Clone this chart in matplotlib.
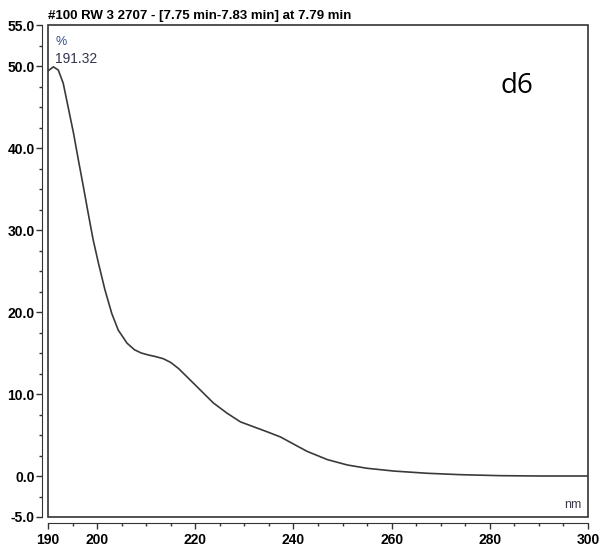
import numpy as np
import matplotlib.pyplot as plt
from matplotlib.patches import Rectangle
from matplotlib.ticker import FixedLocator, MultipleLocator, FormatStrFormatter

# spectrum
wavelength = [190.0, 191.1, 192.1, 193.1, 194.1, 195.2, 196.2, 197.2, 198.2, 199.2,
              200.3, 201.6, 203.0, 204.3, 206.1, 207.6, 209.0, 210.5, 212.0, 213.5,
              215.0, 216.6, 218.3, 221.0, 223.7, 226.5, 229.2, 231.9, 234.6, 237.4,
              240.0, 242.8, 246.9, 251.0, 255.0, 260.5, 267.3, 274.1, 282.2, 290.4,
              300.0]
absorb = [49.4, 49.9, 49.5, 47.9, 45.0, 41.8, 38.5, 35.3, 32.0, 28.8,
          25.9, 22.7, 19.8, 17.8, 16.2, 15.4, 15.0, 14.75, 14.55, 14.3,
          13.85, 13.1, 12.1, 10.5, 8.9, 7.65, 6.6, 6.0, 5.4, 4.75,
          3.9, 3.0, 2.0, 1.34, 0.94, 0.6, 0.33, 0.16, 0.04, 0.0,
          0.0]
x_major = [190, 200, 220, 240, 260, 280, 300]
y_major = [-5, 0, 10, 20, 30, 40, 50, 55]
title = '#100 RW 3 2707 - [7.75 min-7.83 min] at 7.79 min'

W, H = 606, 548
fig = plt.figure(figsize=(W / 100, H / 100), dpi=100)
ax = fig.add_axes([48 / W, 1 - 517 / H, (588 - 48) / W, (517 - 25) / H])

ax.plot(wavelength, absorb, color='#3a3a3a', lw=1.2)
ax.set_xlim(190, 300)
ax.set_ylim(-5, 55)

# separate axis lines outside the box
for s in ['top', 'right']:
    ax.spines[s].set_visible(False)
ax.spines['left'].set_position(('outward', 4))
ax.spines['bottom'].set_position(('outward', 4.5))
ax.spines['left'].set_color('#333333')
ax.spines['bottom'].set_color('#333333')
ax.add_patch(Rectangle((0, 0), 1, 1, transform=ax.transAxes, fill=False,
                       ec='#333333', lw=1.2, clip_on=False))

ax.xaxis.set_major_locator(FixedLocator(x_major))
ax.xaxis.set_minor_locator(MultipleLocator(5))
ax.yaxis.set_major_locator(FixedLocator(y_major))
ax.yaxis.set_minor_locator(MultipleLocator(2.5))
ax.yaxis.set_major_formatter(FormatStrFormatter('%.1f'))
ax.tick_params(which='major', length=4, width=1, color='#333333')
ax.tick_params(which='minor', length=2.5, width=1, color='#333333')
ax.tick_params(axis='y', which='major', pad=1.5)
ax.tick_params(axis='x', which='major', pad=3)

tfont = dict(family='Liberation Sans', weight='bold', size=10)
for lab in ax.get_xticklabels() + ax.get_yticklabels():
    lab.set_fontproperties(tfont)

fig.text(48 / W, 1 - 19 / H, title, ha='left', va='baseline',
         family='Liberation Sans', weight='bold', size=9.5)
fig.text(55 / W, 1 - 42 / H, '%', ha='left', va='center', color='#2d4f8f',
         family='Liberation Sans', size=9)
fig.text(55 / W, 1 - 59 / H, '191.32', ha='left', va='center', color='#33334d',
         family='Liberation Sans', size=10)
fig.text(581 / W, 1 - 505 / H, 'nm', ha='right', va='center', color='#3a3a4a',
         family='Liberation Sans', size=9)
fig.text(500 / W, 1 - 86 / H, 'd6', ha='left', va='center', color='black',
         family='Open Sans', size=20)

fig.savefig('out.png', dpi=100)
